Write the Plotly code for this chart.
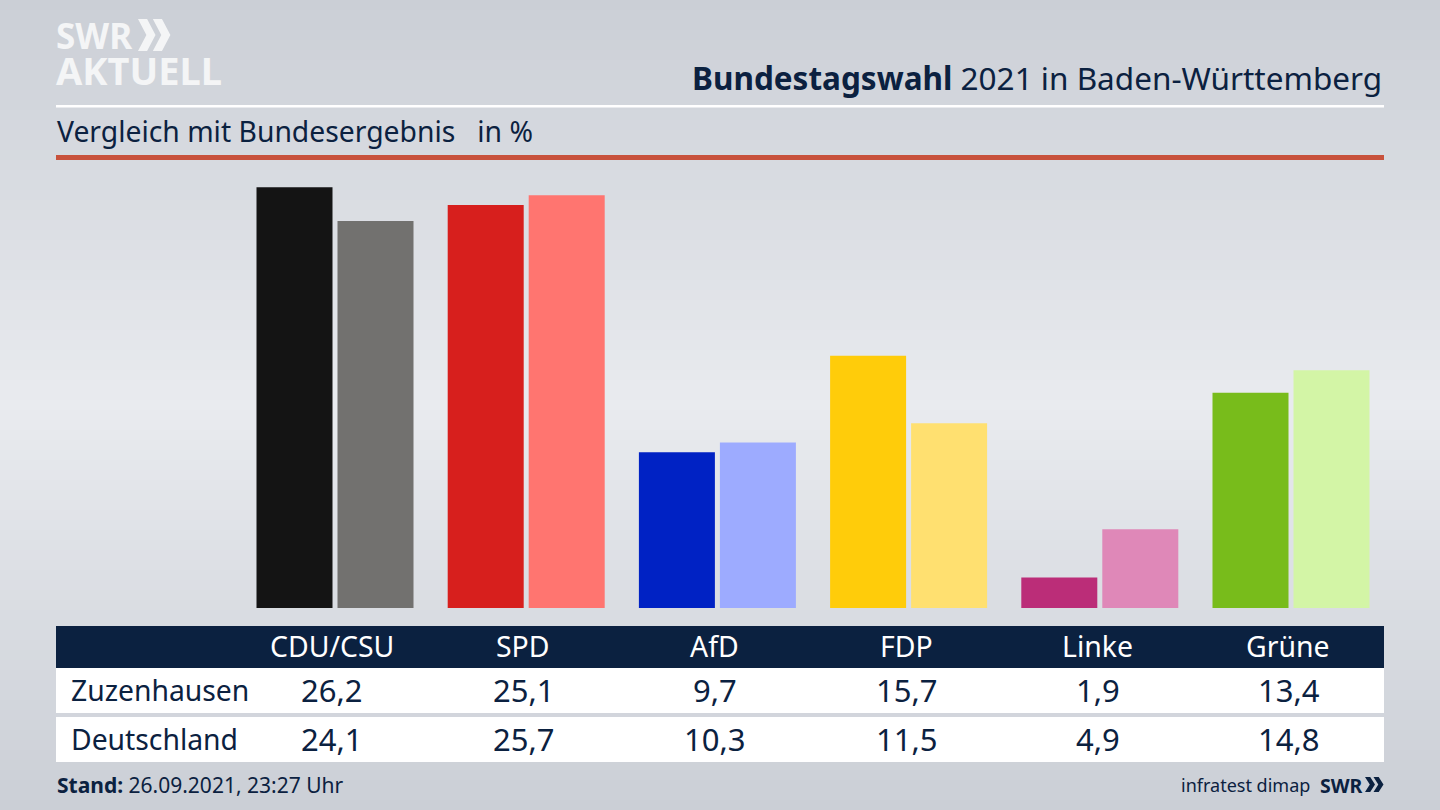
import plotly.graph_objects as go

parties = ["CDU/CSU", "SPD", "AfD", "FDP", "Linke", "Grüne"]
zuzenhausen = [26.2, 25.1, 9.7, 15.7, 1.9, 13.4]
deutschland = [24.1, 25.7, 10.3, 11.5, 4.9, 14.8]
zuzenhausen_labels = ["26,2", "25,1", "9,7", "15,7", "1,9", "13,4"]
deutschland_labels = ["24,1", "25,7", "10,3", "11,5", "4,9", "14,8"]
colors_a = ["#141414", "#d71f1d", "#0022c4", "#ffcc0a", "#bb2d78", "#78bc1b"]
colors_b = ["#72716f", "#ff7570", "#9dabff", "#ffe070", "#df88b8", "#d3f5a6"]

W, H = 1440, 810
NAVY = "#0b2140"
FONT = "Noto Sans"
px = lambda x: x / W
py = lambda y: 1 - y / H


def rect(x0, y0, x1, y1, color, layer="above"):
    return dict(type="rect", xref="paper", yref="paper", x0=px(x0), x1=px(x1),
                y0=py(y1), y1=py(y0), fillcolor=color, line_width=0, layer=layer)


def poly(points, color):
    path = "M " + " L ".join(f"{px(a):.5f},{py(b):.5f}" for a, b in points) + " Z"
    return dict(type="path", xref="paper", yref="paper", path=path,
                fillcolor=color, line_width=0, layer="above")


def chevrons(x, y0, y1, w, color, step=0.85):
    out = []
    mid = (y0 + y1) / 2
    t = w * 0.52
    for dx in (0, w * step):
        out.append(poly([(x + dx, y0), (x + dx + t, y0), (x + dx + w, mid),
                         (x + dx + t, y1), (x + dx, y1), (x + dx + w - t, mid)], color))
    return out


def text(x, y, s, size, color=NAVY, anchor="center", family=FONT, **kw):
    return dict(xref="paper", yref="paper", x=px(x), y=py(y), text=s, showarrow=False,
                xanchor=anchor, yanchor="middle", align=anchor,
                font=dict(family=family, size=size, color=color), **kw)


# background bands
shapes = []
N = 81
top, mid = (203, 207, 214), (233, 235, 239)
for i in range(N):
    f = 1 - abs(i - (N - 1) * 0.5) / ((N - 1) * 0.5)
    c = tuple(round(top[k] + (mid[k] - top[k]) * f) for k in range(3))
    shapes.append(rect(0, i * H / N, W, (i + 1) * H / N + 1, f"rgb{c}", layer="below"))

shapes += [
    rect(56, 105, 1384, 107.5, "#ffffff"),
    rect(56, 155, 1384, 160, "#c8523c"),
    rect(56, 626, 1384, 668, NAVY),
    rect(56, 668, 1384, 713, "#ffffff"),
    rect(56, 717, 1384, 762, "#ffffff"),
]
shapes += chevrons(138, 19, 51, 17.5, "#f4f5f6")
shapes += chevrons(1365, 777, 792, 10, NAVY)

logo = ("<b><span style='font-size:35px'>SWR</span><br>"
        "<span style='font-size:38px'>AKTUELL</span></b>")
centers = [331.5, 523, 714.5, 906, 1097, 1288]
annotations = [
    text(1384, 77, "<b>Bundestagswahl</b> 2021 in Baden-Württemberg", 31.5, anchor="right"),
    text(55, 131, "Vergleich mit Bundesergebnis&#160;&#160;&#160;in %", 28.3, anchor="left"),
    text(54, 54, logo, 27.5, "#f4f5f6", "left"),
    text(69, 690, "Zuzenhausen", 28.3, anchor="left"),
    text(69, 739, "Deutschland", 28.3, anchor="left"),
    text(55, 785, "<b>Stand:</b> 26.09.2021, 23:27 Uhr", 21, anchor="left"),
    text(1312, 785, "infratest dimap", 18, anchor="right"),
    text(1365, 785, "<b>SWR</b>", 19.5, anchor="right"),
]
for i, c in enumerate(centers):
    annotations.append(text(c, 646, parties[i], 28.4, "#ffffff"))
    annotations.append(text(c + 0.5, 690, zuzenhausen_labels[i], 31))
    annotations.append(text(c + 0.5, 739, deutschland_labels[i], 31))

fig = go.Figure()
xs = list(range(len(parties)))
fig.add_bar(x=xs, y=zuzenhausen, marker=dict(color=colors_a, line_width=0), name="Zuzenhausen")
fig.add_bar(x=xs, y=deutschland, marker=dict(color=colors_b, line_width=0), name="Deutschland")

pitch, x0, base, unit = 191.2, 335, 608, 16.06
fig.update_layout(
    width=W, height=H, autosize=False, margin=dict(l=0, r=0, t=0, b=0),
    paper_bgcolor="#dfe1e6", plot_bgcolor="rgba(0,0,0,0)", showlegend=False,
    barmode="group", bargap=0.1527, bargroupgap=0.0617,
    shapes=shapes, annotations=annotations,
    xaxis=dict(range=[(0 - x0) / pitch, (W - x0) / pitch], visible=False, fixedrange=True),
    yaxis=dict(range=[(base - H) / unit, base / unit], visible=False, fixedrange=True),
)
fig.write_html("out.html", config=dict(displayModeBar=False),
               post_script="document.body.style.margin='0';document.body.style.overflow='hidden';")
